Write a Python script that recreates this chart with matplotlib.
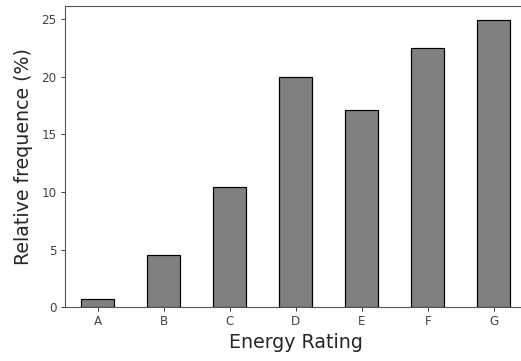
import matplotlib
matplotlib.use("Agg")
import matplotlib.pyplot as plt

categories = ["A", "B", "C", "D", "E", "F", "G"]
values = [0.72, 4.55, 10.43, 19.94, 17.07, 22.46, 24.9]

dpi = 72
fig = plt.figure(figsize=(521 / dpi, 361 / dpi), dpi=dpi)
ax = fig.add_axes([64.5 / 521, (361 - 307.3) / 361, (527 - 64.5) / 521, (307.3 - 5.7) / 361])

x = range(len(categories))
ax.bar(x, values, width=0.5, color="gray", edgecolor="black", linewidth=1.2)
ax.set_xlim(-0.5, 6.5)
ax.set_ylim(0, 26.15)
ax.set_xticks(list(x))
ax.set_xticklabels(categories)
ax.set_yticks([0, 5, 10, 15, 20, 25])
ax.tick_params(labelsize=12, colors="#444444", length=4, width=1, pad=4)
for s in ax.spines.values():
    s.set_color("#555555")
    s.set_linewidth(1.1)
ax.set_xlabel("Energy Rating", fontsize=19, color="#262626", labelpad=5)
ax.set_ylabel("Relative frequence (%)", fontsize=19, color="#262626", labelpad=8)

fig.savefig("out.png", dpi=dpi)
